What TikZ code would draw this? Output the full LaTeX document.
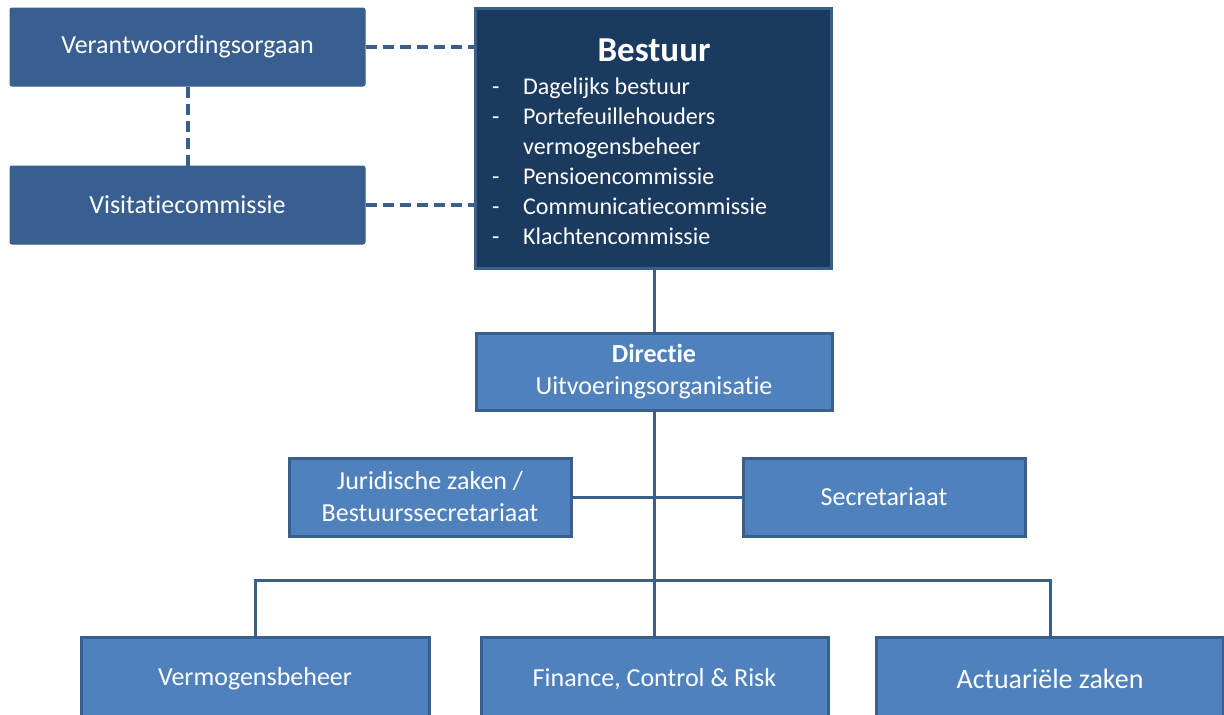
\documentclass[tikz,border=0pt]{standalone}
\usepackage{fontspec}
\setmainfont{Carlito}[RawFeature={-liga;-clig;-dlig}]
\usepackage{array}
\definecolor{navy}{HTML}{1B3A5F}
\definecolor{steel}{HTML}{385F8F}
\definecolor{mid}{HTML}{4F81BD}
\definecolor{edge}{HTML}{3A5F8C}
\begin{document}
\begin{tikzpicture}[x=1pt,y=-1pt,
  base/.style={rectangle, inner sep=0pt, align=center, text=white, font=\fontsize{26}{32}\selectfont},
  upper/.style={base, fill=steel, draw=steel, line width=1pt, rounded corners=2pt},
  boss/.style={base, fill=navy, draw=edge, line width=3pt},
  unit/.style={base, fill=mid, draw=edge, line width=3pt},
  link/.style={draw=edge, line width=3pt},
  dlink/.style={draw=edge, line width=4pt, dash pattern=on 11pt off 6pt}]
\useasboundingbox (0,0) rectangle (1224,715);
\clip (0,0) rectangle (1224,715);
% top-left boxes
\node[upper, minimum width=355pt, minimum height=78pt] (verant) at (187.5,47) {Verantwoordingsorgaan};
\node[upper, minimum width=355pt, minimum height=78pt] (visit) at (187.5,205) {Visitatiecommissie};
% Bestuur
\node[boss, minimum width=356pt, minimum height=260pt] (bestuur) at (653.5,138.5) {};
\node[base, font=\fontsize{35}{40}\selectfont\bfseries] (btitle) at (654,50) {Bestuur};
\node[base, anchor=north west, align=left, font=\fontsize{24}{30}\selectfont] (blist) at (492,73)
  {\begin{tabular}{@{}p{31pt}@{}l@{}}
   - & Dagelijks bestuur\\
   - & Portefeuillehouders\\
     & vermogensbeheer\\
   - & Pensioencommissie\\
   - & Communicatiecommissie\\
   - & Klachtencommissie
   \end{tabular}};
% Directie
\node[unit, minimum width=356pt, minimum height=77pt] (directie) at (654,371.5) {\textbf{Directie}\\Uitvoeringsorganisatie};
% middle
\node[unit, minimum width=282pt, minimum height=78pt] (jur) at (430,497) {Juridische zaken /\\Bestuurssecretariaat};
\node[unit, minimum width=282pt, minimum height=78pt] (secr) at (884,497) {Secretariaat};
% bottom
\node[unit, minimum width=348pt, minimum height=84pt] (vermogen) at (255,679) {Vermogensbeheer};
\node[unit, minimum width=347pt, minimum height=84pt] (finance) at (654.5,679) {Finance, Control \& Risk};
\node[unit, minimum width=347pt, minimum height=84pt, font=\fontsize{28}{32}\selectfont] (actuar) at (1050,679) {Actuariële zaken};
% connectors
\draw[dlink] (verant.east) -- (verant.east -| bestuur.west);
\draw[dlink] (visit.east) -- (visit.east -| bestuur.west);
\draw[dlink] (verant.south) -- (visit.north);
\draw[link] (bestuur.south -| directie.north) -- (directie.north);
\coordinate (bus) at (654,580);
\draw[link] (directie.south) -- (directie.south |- vermogen.north);
\draw[link] (jur.east) -- (secr.west);
\draw[link] (vermogen.north) -- (vermogen.north |- bus) -- (actuar.north |- bus) -- (actuar.north);
\end{tikzpicture}
\end{document}
